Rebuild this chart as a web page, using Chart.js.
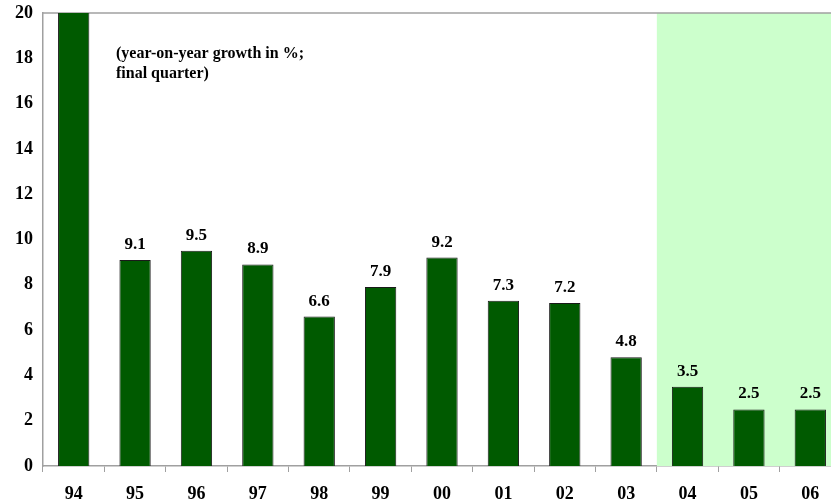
<!DOCTYPE html>
<html>
<head>
<meta charset="utf-8">
<script src="https://cdn.jsdelivr.net/npm/chart.js@4/dist/chart.umd.min.js"></script>
<style>
  html, body { margin: 0; padding: 0; background: #fff; }
  #frame { width: 831px; height: 504px; overflow: hidden; }
  /* the plot runs a little past the right edge of the frame */
  #wrap { width: 841px; height: 504px; }
</style>
</head>
<body>
<div id="frame"><div id="wrap"><canvas id="growthChart"></canvas></div></div>
<script>
// Year-on-year growth, final quarter (%)
const years = ['94', '95', '96', '97', '98', '99', '00', '01', '02', '03', '04', '05', '06'];
const growth = [21.5, 9.1, 9.5, 8.9, 6.6, 7.9, 9.2, 7.3, 7.2, 4.8, 3.5, 2.5, 2.5];
const forecastFrom = '04'; // shaded period starts here
const yTicks = [0, 2, 4, 6, 8, 10, 12, 14, 16, 18, 20];
const noteLines = ['(year-on-year growth in %;', 'final quarter)'];

const FONT = "'Liberation Serif', 'Times New Roman', serif";

// Light green band behind the forecast years plus the top frame line
const backdrop = {
  id: 'backdrop',
  beforeDatasetsDraw(chart) {
    const { ctx, chartArea, scales } = chart;
    const x = scales.x;
    const i = years.indexOf(forecastFrom);
    const left = (x.getPixelForValue(i - 1) + x.getPixelForValue(i)) / 2;
    ctx.save();
    ctx.fillStyle = '#ccffcc';
    ctx.fillRect(left, chartArea.top, chartArea.right - left, chartArea.bottom - chartArea.top);
    ctx.strokeStyle = '#a0a0a0';
    ctx.lineWidth = 1.5;
    ctx.beginPath();
    ctx.moveTo(chartArea.left, chartArea.top);
    ctx.lineTo(chartArea.right, chartArea.top);
    ctx.stroke();
    ctx.restore();
  },
  afterDatasetsDraw(chart) {
    const { ctx, scales } = chart;
    const meta = chart.getDatasetMeta(0);
    ctx.save();
    ctx.fillStyle = '#000';
    ctx.font = 'bold 17px ' + FONT;
    ctx.textAlign = 'center';
    ctx.textBaseline = 'alphabetic';
    meta.data.forEach((bar, i) => {
      if (growth[i] > scales.y.max) return; // bar runs off the top, no label
      ctx.fillText(growth[i].toFixed(1), bar.x, bar.y - 11);
    });
    // explanatory note in the upper left
    ctx.font = 'bold 16px ' + FONT;
    ctx.textAlign = 'left';
    noteLines.forEach((line, k) => {
      ctx.fillText(line, 116, 58 + k * 20);
    });
    ctx.restore();
  }
};

new Chart(document.getElementById('growthChart'), {
  type: 'bar',
  data: {
    labels: years,
    datasets: [{
      data: growth,
      backgroundColor: '#005a00',
      borderColor: '#1a1a1a',
      borderWidth: 1,
      categoryPercentage: 1,
      barPercentage: 0.51
    }]
  },
  options: {
    responsive: true,
    maintainAspectRatio: false,
    animation: false,
    devicePixelRatio: 1,
    layout: { padding: { top: 13, right: 0, left: 0, bottom: 0 } },
    plugins: {
      legend: { display: false },
      tooltip: { enabled: false }
    },
    scales: {
      x: {
        offset: true,
        grid: {
          offset: true,
          drawOnChartArea: false,
          drawTicks: true,
          tickLength: 6,
          color: '#a0a0a0'
        },
        border: { color: '#a0a0a0', width: 1.5 },
        ticks: {
          color: '#000',
          font: { family: FONT, size: 18, weight: 'bold' },
          padding: 12,
          maxRotation: 0
        },
        afterFit(scale) {
          scale.height = 38;
          scale.paddingLeft = 0;
          scale.paddingRight = 0;
        }
      },
      y: {
        min: 0,
        max: 20,
        afterBuildTicks(scale) { scale.ticks = yTicks.map(v => ({ value: v })); },
        grid: { display: false, drawTicks: false },
        border: { color: '#a0a0a0', width: 1.5 },
        ticks: {
          color: '#000',
          font: { family: FONT, size: 18, weight: 'bold' },
          padding: 10
        },
        afterFit(scale) {
          scale.width = 43;
          scale.paddingTop = 0;
          scale.paddingBottom = 0;
        }
      }
    }
  },
  plugins: [backdrop]
});
</script>
</body>
</html>
